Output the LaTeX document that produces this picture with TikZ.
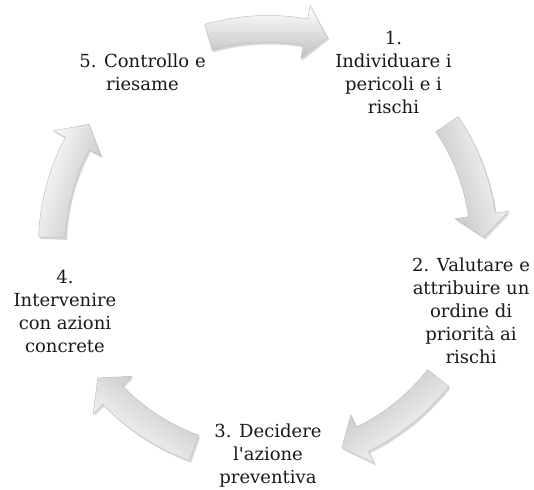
\documentclass[tikz,border=0pt]{standalone}
\usepackage{fontspec}
\setmainfont{DejaVu Serif}
\usetikzlibrary{calc, shadows}

\begin{document}
\begin{tikzpicture}[
  x=1pt, y=1pt,
  steptext/.style={align=center, font=\fontsize{18}{23}\selectfont, text=black!90, inner sep=0pt},
  cyclearrow/.style={draw=gray!50, line width=0.5pt, top color=white, bottom color=gray!50,
    drop shadow={opacity=0.3, shadow xshift=1.5pt, shadow yshift=-2pt}}
]
\useasboundingbox (0,0) rectangle (534,489);
\coordinate (c) at (268,244);

% Fasi
\node[steptext] (n1) at ($(c)+(54:213.5)$) {1.\\Individuare i\\pericoli e i\\rischi};
\node[steptext] (n2) at ($(c)+(-18:213.5)$) {2. Valutare e\\attribuire un\\ordine di\\priorità ai\\rischi};
\node[steptext, yshift=3pt] (n3) at ($(c)+(-90:213.5)$) {3. Decidere\\l\textquotesingle azione\\preventiva};
\node[steptext] (n4) at ($(c)+(198:213.5)$) {4.\\Intervenire\\con azioni\\concrete};
\node[steptext] (n5) at ($(c)+(126:213.5)$) {5. Controllo e\\riesame};

% Frecce del ciclo
\foreach \a in {90,18,-54,-126,162}{
  \pgfmathsetmacro{\s}{\a+16}
  \pgfmathsetmacro{\e}{\a-16}
  \pgfmathsetmacro{\b}{\a-10}
  \pgfmathsetmacro{\g}{\a-90}
  \draw[cyclearrow, shading angle=\g] ($(c)+(\s:229.5)$)
    arc[start angle=\s, end angle=\b, radius=229.5pt]
    -- ($(c)+(\b:243)$) -- ($(c)+(\e:216)$) -- ($(c)+(\b:189)$)
    -- ($(c)+(\b:202.5)$)
    arc[start angle=\b, end angle=\s, radius=202.5pt] -- cycle;
}
\end{tikzpicture}
\end{document}
